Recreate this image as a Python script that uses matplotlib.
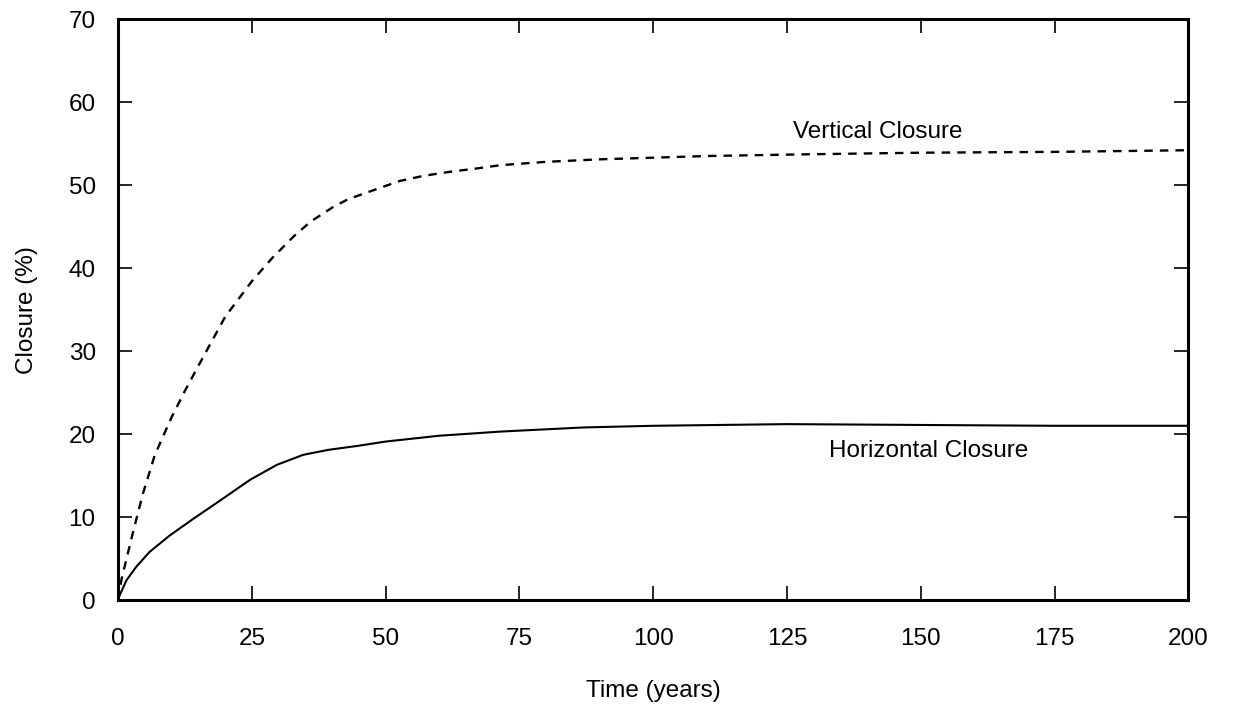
import matplotlib
matplotlib.use("Agg")
import matplotlib.pyplot as plt

plt.rcParams['font.family'] = ['Liberation Sans', 'DejaVu Sans']

# Data
time_vertical = [0, 0.7, 2.9, 4.7, 6.9, 10, 12.5, 15.6, 20, 25, 28.8,
                 32.8, 36, 40.3, 43, 46.5, 50, 52.7, 57, 62, 67, 71.5, 80, 90, 100, 110,
                 128, 150, 175, 200]
closure_vertical = [0, 2.6, 8.4, 12.9, 17.5, 22.0, 25.2, 28.9, 34.1,
                    38.4, 41.2, 43.8, 45.6, 47.4, 48.3, 49.1, 49.9, 50.5, 51.1, 51.6, 52.0,
                    52.4, 52.8, 53.1, 53.3, 53.5, 53.7, 53.9, 54.0, 54.2]

time_horizontal = [0, 0.33, 1.6, 3.4, 5.9, 9.7, 14.1, 19.1, 24.7, 29.7, 34.6, 39.3,
                   45, 50, 60, 71.4, 87, 100, 125, 150, 175, 200]
closure_horizontal = [0, 0.6, 2.4, 4.0, 5.8, 7.8, 9.8, 12.0, 14.5, 16.3, 17.5, 18.1,
                      18.6, 19.1, 19.8, 20.3, 20.8, 21.0, 21.2, 21.1, 21.0, 21.0]

x_ticks = [0, 25, 50, 75, 100, 125, 150, 175, 200]
y_ticks = [0, 10, 20, 30, 40, 50, 60, 70]

fig = plt.figure(figsize=(12.39, 7.06), dpi=100)
ax = fig.add_axes([0.0952, 0.150, 0.864, 0.823])

ax.plot(time_vertical, closure_vertical, color='black', lw=1.7, linestyle=(0, (3.6, 3.0)))
ax.plot(time_horizontal, closure_horizontal, color='black', lw=1.5)

ax.set_xlim(0, 200)
ax.set_ylim(0, 70)
ax.set_xticks(x_ticks)
ax.set_yticks(y_ticks)

ax.tick_params(direction='in', length=10, width=1.2, top=True, right=True,
               labelsize=17.5)
ax.tick_params(axis='x', pad=20)
ax.tick_params(axis='y', pad=16)
for s in ax.spines.values():
    s.set_linewidth(2.2)

ax.set_xlabel('Time (years)', fontsize=17.5, labelpad=22)
ax.set_ylabel('Closure (%)', fontsize=17.5, labelpad=22)

ax.text(141.9, 56.4, 'Vertical Closure', fontsize=17.5, ha='center', va='center')
ax.text(151.4, 18.0, 'Horizontal Closure', fontsize=17.5, ha='center', va='center')

fig.savefig('out.png', dpi=100)
